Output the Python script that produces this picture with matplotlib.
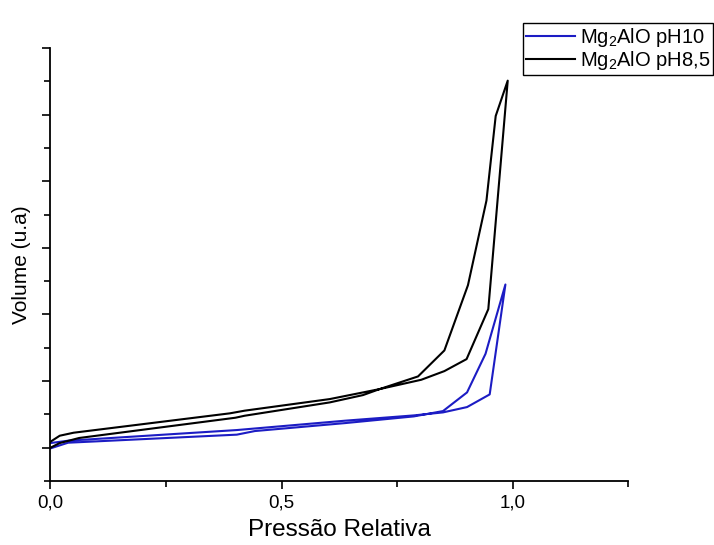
import numpy as np
import matplotlib
matplotlib.use("Agg")
import matplotlib.pyplot as plt
from matplotlib.ticker import MultipleLocator

plt.rcParams['font.family'] = ['Liberation Sans', 'DejaVu Sans']
plt.rcParams['mathtext.fontset'] = 'custom'
plt.rcParams['mathtext.rm'] = 'Liberation Sans'
plt.rcParams['mathtext.it'] = 'Liberation Sans'

# Mg2AlO pH10 (blue) - adsorption then desorption, one polyline
p_ph10 = [0.0, 0.038, 0.403, 0.638, 0.786, 0.849, 0.901, 0.950, 0.984,
          0.941, 0.901, 0.849, 0.786, 0.638, 0.442, 0.403, 0.038, 0.0]
v_ph10 = [0.07, 0.105, 0.265, 0.406, 0.485, 0.53, 0.61, 0.80, 2.45,
          1.41, 0.83, 0.55, 0.47, 0.37, 0.25, 0.196, 0.075, -0.01]

# Mg2AlO pH8,5 (black)
p_ph85 = [0.0, 0.02, 0.05, 0.388, 0.42, 0.604, 0.712, 0.802, 0.852, 0.90, 0.947, 0.989,
          0.963, 0.943, 0.903, 0.852, 0.795, 0.712, 0.676, 0.604, 0.42, 0.40, 0.062, 0.02, 0.0]
v_ph85 = [0.09, 0.18, 0.225, 0.516, 0.556, 0.73, 0.88, 1.02, 1.15, 1.33, 2.08, 5.51,
          4.98, 3.71, 2.44, 1.46, 1.07, 0.88, 0.79, 0.68, 0.48, 0.45, 0.146, 0.07, 0.0]

fig = plt.figure(figsize=(7.14, 5.45), dpi=100)
ax = fig.add_axes([0.0707, 0.1174, 0.8094, 0.7945])

ax.plot(p_ph10, v_ph10, color='#1c1cc4', lw=1.5, label='Mg$_2$AlO pH10')
ax.plot(p_ph85, v_ph85, color='black', lw=1.5, label='Mg$_2$AlO pH8,5')

ax.set_xlim(0, 1.25)
ax.set_ylim(-0.5, 6)
ax.spines['top'].set_visible(False)
ax.spines['right'].set_visible(False)
ax.spines['left'].set_linewidth(1.3)
ax.spines['bottom'].set_linewidth(1.3)

ax.xaxis.set_major_locator(MultipleLocator(0.5))
ax.xaxis.set_minor_locator(MultipleLocator(0.25))
ax.yaxis.set_major_locator(MultipleLocator(1))
ax.yaxis.set_minor_locator(MultipleLocator(0.5))
ax.set_xticks([0, 0.5, 1.0])
ax.set_xticklabels(['0,0', '0,5', '1,0'])
ax.set_yticklabels([])
ax.tick_params(which='both', direction='out', width=1.2)
ax.tick_params(which='major', length=6, labelsize=13.5, pad=4)
ax.tick_params(which='minor', length=4)

ax.set_xlabel('Pressão Relativa', fontsize=17.5, va='center')
ax.xaxis.set_label_coords(0.5, (481 - 530) / 433)
ax.set_ylabel('Volume (u.a)', fontsize=15, va='center')
ax.yaxis.set_label_coords((22 - 50.5) / 577.9, 0.5)

leg = ax.legend(loc='upper right', bbox_to_anchor=(713 / 714, 1 - 23 / 545),
                bbox_transform=fig.transFigure, borderaxespad=0, fontsize=14.5,
                fancybox=False, framealpha=1, edgecolor='black',
                handlelength=2.4, handletextpad=0.25, labelspacing=0.0,
                borderpad=0.15)
leg.get_frame().set_linewidth(1.0)

fig.savefig('out.png', dpi=100)
